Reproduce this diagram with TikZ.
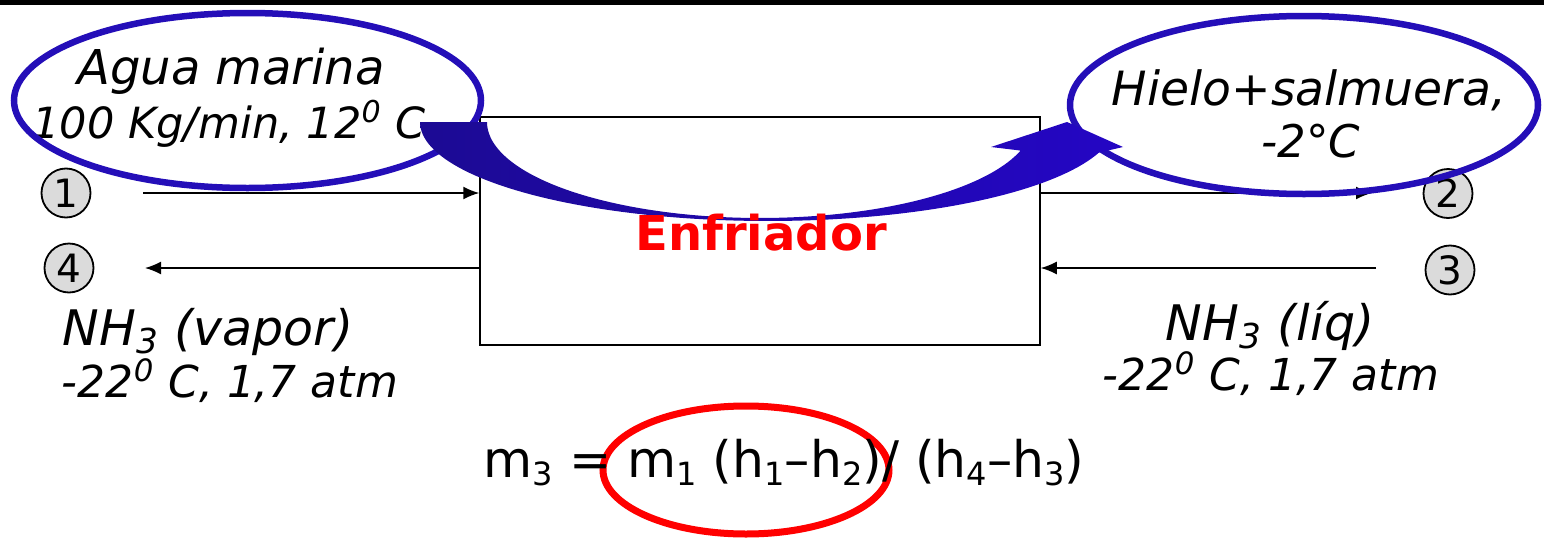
\documentclass[tikz,border=0pt]{standalone}
\usepackage{fontspec}
\setmainfont{DejaVu Sans}
\usetikzlibrary{shapes.geometric,arrows.meta}
\definecolor{ellblue}{RGB}{36,14,184}
\definecolor{bandL}{RGB}{28,10,148}
\definecolor{bandR}{RGB}{36,6,196}
\newcommand\eqsub[1]{\raisebox{-0.32ex}{\fontsize{16pt}{16pt}\selectfont #1}}
\begin{document}
\begin{tikzpicture}[x=0.5pt,y=-0.5pt,
  flow/.style={line width=0.75pt,-{Latex[length=8pt,width=6.5pt]}},
  num/.style={circle,draw,line width=0.9pt,fill=black!14,minimum size=24.5pt,inner sep=0pt,font=\fontsize{19.5pt}{19.5pt}\selectfont},
  itxt/.style={anchor=base,inner sep=0pt,font=\itshape\fontsize{#1pt}{#1pt}\selectfont},
  oval/.style={ellipse,draw=ellblue,line width=3.25pt,inner sep=0pt}]
\useasboundingbox (0,0) rectangle (1544,541);
\fill[black] (0,0) rectangle (1544,5);
% process box
\node[draw,line width=0.75pt,minimum width=280pt,minimum height=114pt,inner sep=0pt] (box) at (760,231) {};
% stream numbers
\node[num] (c1) at (66,193) {1};
\node[num] (c4) at (69,268) {4};
\node[num] (c2) at (1448,193.5) {2};
\node[num] (c3) at (1450,270) {3};
% free ends of the streams
\coordinate (s1) at (143,193);
\coordinate (s2) at (1372,193);
\coordinate (s3) at (1376,268);
\coordinate (s4) at (145,268);
\draw[flow] (s1) -- (box.west |- s1);
\draw[flow] (box.east |- s2) -- (s2);
\draw[flow] (s3) -- (box.east |- s3);
\draw[flow] (box.west |- s4) -- (s4);
% texts
\node[itxt=24] (t1a) at (231,84) {Agua marina};
\node[itxt=21.5] (t1b) at (229,138) {100 Kg/min, 12\textsuperscript{0} C};
\node[itxt=23.6] (t2a) at (1309,105) {Hielo+salmuera,};
\node[itxt=22.5] (t2b) at (1311,157) {-2°C};
\node[itxt=24.5] (t4a) at (208,345) {NH\textsubscript{3} (vapor)};
\node[itxt=22] (t4b) at (230,397) {-22\textsuperscript{0} C, 1,7 atm};
\node[itxt=24.5] (t3a) at (1270,340) {NH\textsubscript{3} (líq)};
\node[itxt=22] (t3b) at (1271,390) {-22\textsuperscript{0} C, 1,7 atm};
% callout ovals
\node[oval,minimum width=233.5pt,minimum height=87.5pt] (ovl) at (247.5,100.5) {};
\node[oval,minimum width=234pt,minimum height=89pt] (ovr) at (1304,105) {};
% curved block arrow
\shade[left color=bandL,right color=bandR]
  plot[domain=180:18,samples=90] ({768+348*cos(\x)},{122+99*sin(\x)})
  -- (1123,147) -- (1067,122) -- (991,147) -- (1020,150.5)
  -- plot[domain=17.8:180,samples=90] ({760+273*cos(\x)},{122+96*sin(\x)})
  -- cycle;
\node[anchor=base,inner sep=0pt,text=red,font=\bfseries\fontsize{24pt}{24pt}\selectfont] (enf) at (761,250) {Enfriador};
% equation
\node[ellipse,draw=red,line width=3.5pt,inner sep=0pt,minimum width=143pt,minimum height=64pt] (redov) at (746,470) {};
\node[anchor=base,inner sep=0pt,font=\fontsize{25.2pt}{25.2pt}\selectfont] (eq) at (784,477) {m\eqsub{3} = m\eqsub{1} (h\eqsub{1}–h\eqsub{2})/ (h\eqsub{4}–h\eqsub{3})};
\end{tikzpicture}
\end{document}
